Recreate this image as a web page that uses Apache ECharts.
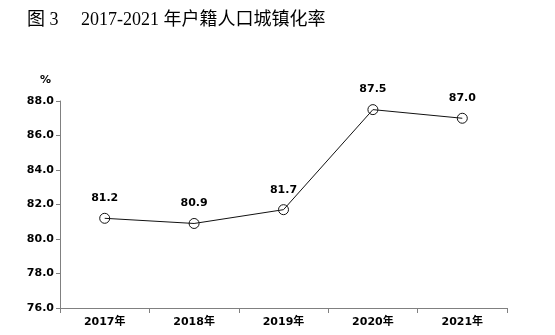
<!DOCTYPE html>
<html><head><meta charset="utf-8">
<script src="https://cdn.jsdelivr.net/npm/echarts@6/dist/echarts.min.js"></script>
<style>html,body{margin:0;padding:0;background:#fff}#c{width:555px;height:335px}</style>
</head><body><div id="c"></div>
<script>
const titleText = '图 3\u3000 2017-2021 年户籍人口城镇化率';
const categories = ['2017年', '2018年', '2019年', '2020年', '2021年'];
const values = [81.2, 80.9, 81.7, 87.5, 87.0];
const yMin = 76, yMax = 88, yStep = 2;
const yUnit = '%';

const chart = echarts.init(document.getElementById('c'));
const lblFont = "'DejaVu Sans', 'Noto Sans CJK SC', sans-serif";
chart.setOption({
  animation: false,
  title: {
    text: titleText, left: 22, top: 6,
    textStyle: { fontFamily: "'Liberation Serif', 'Noto Sans CJK SC', serif", fontWeight: 'normal', fontSize: 18, color: '#000' }
  },
  grid: { left: 60, right: 48, top: 101, bottom: 27, containLabel: false },
  xAxis: {
    type: 'category', data: categories, boundaryGap: true,
    axisLine: { lineStyle: { color: '#808080', width: 1 } },
    axisTick: { show: true, length: 5, lineStyle: { color: '#808080' } },
    axisLabel: { margin: 9, fontFamily: lblFont, fontWeight: 'bold', fontSize: 11, color: '#000' }
  },
  yAxis: {
    type: 'value', min: yMin, max: yMax, interval: yStep,
    name: yUnit, nameLocation: 'end', nameGap: 15,
    nameTextStyle: { fontFamily: lblFont, fontWeight: 'bold', fontSize: 11, color: '#000', align: 'right', padding: [0, 9, 0, 0] },
    splitLine: { show: false },
    axisLine: { show: true, lineStyle: { color: '#808080', width: 1 } },
    axisTick: { show: true, length: 4, lineStyle: { color: '#808080' } },
    axisLabel: { margin: 6, fontFamily: lblFont, fontWeight: 'bold', fontSize: 11, color: '#000', formatter: v => v.toFixed(1) }
  },
  series: [{
    type: 'line', data: values,
    symbol: 'circle', symbolSize: 10, showAllSymbol: true,
    lineStyle: { color: '#111', width: 1 },
    itemStyle: { color: 'rgba(255,255,255,0)', borderColor: '#111', borderWidth: 1 },
    label: { show: true, position: 'top', distance: 9, fontFamily: lblFont, fontWeight: 'bold', fontSize: 11, color: '#000', formatter: p => p.value.toFixed(1) }
  }]
});
</script></body></html>
